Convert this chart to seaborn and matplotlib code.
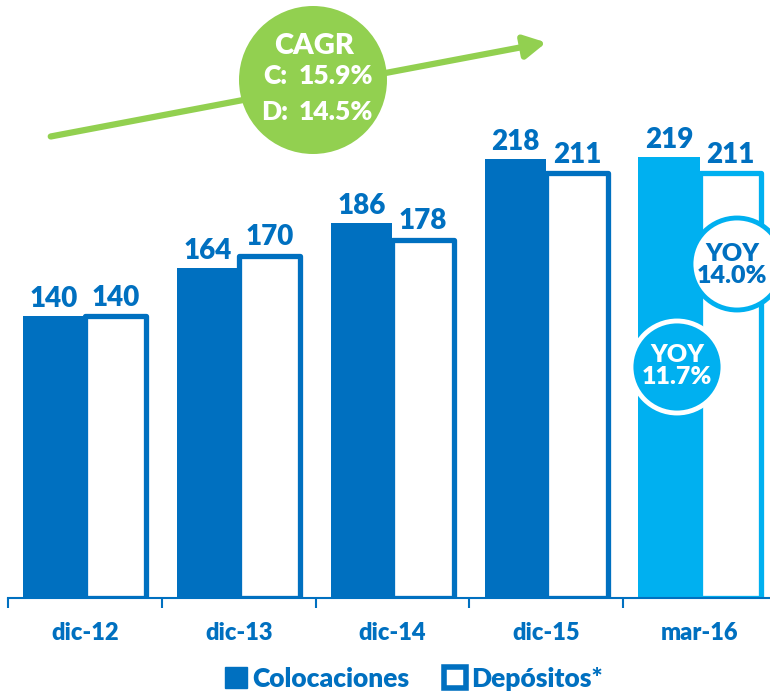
import matplotlib.pyplot as plt
import pandas as pd
import seaborn as sns
from matplotlib.patches import Circle, FancyArrowPatch, Patch

# --- Data ---
periodos = ["dic-12", "dic-13", "dic-14", "dic-15", "mar-16"]
colocaciones = [140, 164, 186, 218, 219]
depositos = [140, 170, 178, 211, 211]
series = ["Colocaciones", "Depósitos*"]
cagr_labels = ["C:", "D:"]
cagr_values = ["15.9%", "14.5%"]
yoy_values = ["11.7%", "14.0%"]

AZUL = "#0070C0"
CELESTE = "#00B0F0"
VERDE = "#92D050"
W, H = 770, 695
PESO = "heavy"

sns.set_theme(style="white")
plt.rcParams["font.family"] = ["Lato", "DejaVu Sans"]
plt.rcParams["font.weight"] = PESO

df = pd.DataFrame({
    "periodo": periodos * 2,
    "valor": colocaciones + depositos,
    "serie": [series[0]] * len(periodos) + [series[1]] * len(periodos),
})

fig = plt.figure(figsize=(W / 100, H / 100), dpi=100)
ax = fig.add_axes([8 / W, 97 / H, 762 / W, 598 / H])

sns.barplot(data=df, x="periodo", y="valor", hue="serie", order=periodos,
            hue_order=series, palette=[AZUL, AZUL], saturation=1,
            width=0.8, legend=False, ax=ax)

# colocaciones: solid; depositos: white with thick outline; last period light blue
for i, bar in enumerate(ax.containers[0]):
    bar.set_facecolor(CELESTE if i == len(periodos) - 1 else AZUL)
    bar.set_edgecolor("none")
for i, bar in enumerate(ax.containers[1]):
    col = CELESTE if i == len(periodos) - 1 else AZUL
    bar.set_facecolor("white")
    bar.set_edgecolor(col)
    bar.set_linewidth(3.8)
    bar.set_joinstyle("round")

ax.bar_label(ax.containers[0], padding=3, fontsize=20, fontweight=PESO, color=AZUL)
ax.bar_label(ax.containers[1], padding=4, fontsize=20, fontweight=PESO, color=AZUL)

ax.set_ylim(0, 297)
ax.set_xlim(-0.5, 4.456)
ax.set_xlabel("")
ax.set_ylabel("")
ax.set_yticks([])
for s in ["top", "left", "right"]:
    ax.spines[s].set_visible(False)
ax.spines["bottom"].set_color(AZUL)
ax.spines["bottom"].set_linewidth(1.5)
ax.set_xticks(range(len(periodos)))
ax.set_xticklabels(periodos, fontsize=17, fontweight=PESO, color=AZUL)
ax.set_xticks([i - 0.5 for i in range(len(periodos))], minor=True)
ax.tick_params(axis="x", which="major", length=0, pad=17)
ax.tick_params(axis="x", which="minor", length=7, width=1.5, color=AZUL,
               direction="out", bottom=True)


def inch(x, y):
    return (x / 100, (H - y) / 100)


def frac(x, y):
    return (x / W, 1 - y / H)


# CAGR arrow + bubble
arrow = FancyArrowPatch(inch(48, 137), inch(549, 42), transform=fig.dpi_scale_trans,
                        arrowstyle="-|>,head_length=0.65,head_width=0.35",
                        mutation_scale=20, color=VERDE, lw=4.5, zorder=1)
fig.add_artist(arrow)
fig.add_artist(Circle(inch(313, 80), 74 / 100, transform=fig.dpi_scale_trans,
                      facecolor=VERDE, edgecolor="none", zorder=2))
fig.text(*frac(314, 46), "CAGR", color="white", fontsize=21, fontweight=PESO,
         ha="center", va="center", zorder=3)
for lab, val, y in zip(cagr_labels, cagr_values, [76, 112]):
    fig.text(*frac(275, y), lab, color="white", fontsize=19, fontweight=PESO,
             ha="center", va="center", zorder=3)
    fig.text(*frac(336, y), val, color="white", fontsize=19, fontweight=PESO,
             ha="center", va="center", zorder=3)

# YOY bubbles
fig.add_artist(Circle(inch(677, 367), 46 / 100, transform=fig.dpi_scale_trans,
                      facecolor=CELESTE, edgecolor="white", lw=3.5, zorder=2))
fig.text(*frac(677, 366), "YOY\n" + yoy_values[0], color="white", fontsize=18,
         fontweight=PESO, ha="center", va="center", linespacing=1.0, zorder=3)
fig.add_artist(Circle(inch(737, 264), 46 / 100, transform=fig.dpi_scale_trans,
                      facecolor="white", edgecolor=CELESTE, lw=3.5, zorder=2))
fig.text(*frac(732, 265), "YOY\n" + yoy_values[1], color=AZUL, fontsize=18,
         fontweight=PESO, ha="center", va="center", linespacing=1.0, zorder=3)

handles = [Patch(facecolor=AZUL, edgecolor=AZUL),
           Patch(facecolor="white", edgecolor=AZUL, linewidth=4)]
leg = fig.legend(handles, series, loc="center", bbox_to_anchor=frac(414, 679),
                 ncol=2, frameon=False, handlelength=0.85, handleheight=0.85,
                 handletextpad=0.2, columnspacing=1.3,
                 prop={"size": 19, "weight": PESO})
for t in leg.get_texts():
    t.set_color(AZUL)

fig.savefig("out.png", dpi=100)
